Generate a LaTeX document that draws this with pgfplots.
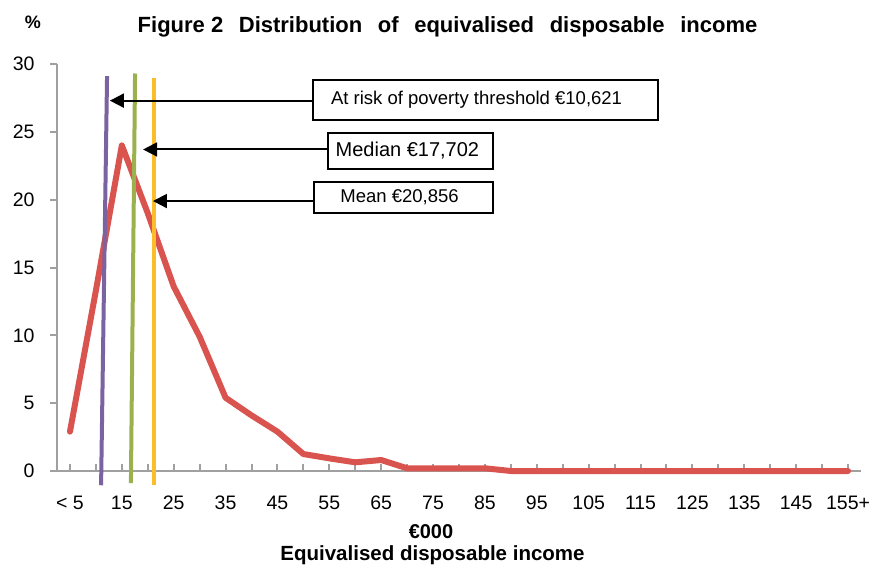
\documentclass[border=0pt]{standalone}
\usepackage{pgfplots}
\pgfplotsset{compat=1.18}
\usepackage{fontspec}
\setmainfont{Liberation Sans}
\usetikzlibrary{arrows.meta}
\definecolor{cred}{HTML}{D9534F}
\definecolor{cpurple}{HTML}{7B62A0}
\definecolor{cgreen}{HTML}{9BB14D}
\definecolor{cyellow}{HTML}{FBBD2A}
\definecolor{caxis}{HTML}{A0A0A0}
\begin{document}
\begin{tikzpicture}[x=1pt,y=1pt]
\path[use as bounding box] (0,0) rectangle (871,-565);
\begin{axis}[
  at={(57pt,-471pt)}, anchor=south west,
  scale only axis, width=804pt, height=407pt,
  xmin=-0.5, xmax=30.5, ymin=0, ymax=30,
  axis x line=bottom, axis y line=left,
  axis line style={caxis, line width=2.5pt, -},
  clip=false,
  xtick={0,...,30},
  xticklabels={< 5,,15,,25,,35,,45,,55,,65,,75,,85,,95,,105,,115,,125,,135,,145,,155+},
  ytick={0,5,...,30},
  x tick style={caxis, line width=2pt},
  y tick style={caxis, line width=2pt},
  xtick align=inside, ytick align=outside,
  major tick length=7pt,
  tick label style={font=\fontsize{19.5}{22}\selectfont},
  /pgf/number format/assume math mode=true,
  xticklabel style={anchor=base, text height=14pt, text depth=0pt, yshift=-38pt},
  yticklabel style={xshift=-12pt},
]
\addplot[cred, line width=6pt, line join=round, line cap=round] coordinates {
(0,2.9) (1,13.3) (2,24.0) (3,19.0) (4,13.6) (5,9.9) (6,5.4) (7,4.1) (8,2.9)
(9,1.25) (10,0.93) (11,0.64) (12,0.81) (13,0.2) (14,0.2) (15,0.2) (16,0.2)
(17,0.0) (18,0.0) (19,0.0) (20,0.0) (21,0.0) (22,0.0) (23,0.0) (24,0.0)
(25,0.0) (26,0.0) (27,0.0) (28,0.0) (29,0.0) (30,0.0)
};
\addplot[cpurple, line width=4pt] coordinates {(1.20,-1.05) (1.43,29.1)};
\addplot[cgreen, line width=4pt] coordinates {(2.35,-0.9) (2.51,29.3)};
\addplot[cyellow, line width=4pt] coordinates {(3.24,-1.05) (3.24,29.0)};
% annotation boxes and arrows
\draw[line width=2pt] (axis cs:9.37,25.9) rectangle (axis cs:22.68,28.8);
\node[anchor=west, font=\fontsize{18.5}{22}\selectfont] at (axis cs:9.93,27.35) {At risk of poverty threshold €10,621};
\draw[line width=2pt, -{Triangle[length=14pt,width=14pt]}] (axis cs:9.37,27.3) -- (axis cs:1.54,27.3);
\draw[line width=2pt] (axis cs:9.95,22.25) rectangle (axis cs:16.3,24.9);
\node[anchor=west, font=\fontsize{20}{22}\selectfont] at (axis cs:10.11,23.6) {Median €17,702};
\draw[line width=2pt, -{Triangle[length=14pt,width=14pt]}] (axis cs:9.95,23.7) -- (axis cs:2.82,23.7);
\draw[line width=2pt] (axis cs:9.41,19.0) rectangle (axis cs:16.3,21.3);
\node[anchor=west, font=\fontsize{18.5}{22}\selectfont] at (axis cs:10.29,20.15) {Mean €20,856};
\draw[line width=2pt, -{Triangle[length=14pt,width=14pt]}] (axis cs:9.41,19.9) -- (axis cs:3.2,19.9);
\end{axis}
\node[anchor=base, font=\bfseries\fontsize{18}{20}\selectfont] at (33,-28) {\%};
\node[anchor=base, font=\bfseries\fontsize{22}{24}\selectfont] at (447.5,-32) {Figure 2\hspace{9.5pt} Distribution\hspace{9.5pt} of\hspace{9.5pt} equivalised\hspace{9.5pt} disposable\hspace{9.5pt} income};
\node[anchor=base, font=\bfseries\fontsize{20}{22}\selectfont] at (431,-538) {€000};
\node[anchor=base, font=\bfseries\fontsize{20.5}{22}\selectfont] at (432.5,-560) {Equivalised disposable income};
\end{tikzpicture}
\end{document}
